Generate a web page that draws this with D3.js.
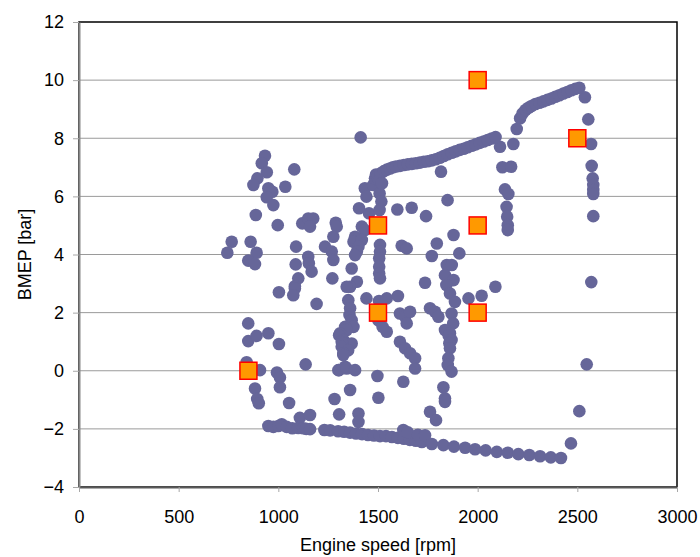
<!DOCTYPE html>
<html>
<head>
<meta charset="utf-8">
<script src="https://cdn.jsdelivr.net/npm/d3@7"></script>
<style>
  body { margin: 0; background: #fff; }
  svg { display: block; font-family: "Liberation Sans", Arial, sans-serif; }
  .axis text { font-size: 18px; fill: #000; }
  .title { font-size: 18px; fill: #000; }
</style>
</head>
<body>
<svg id="chart" width="700" height="557"></svg>
<script>
// measured operating points [rpm, bar]
var scatterLeft = [
  [933,7.40],[917,7.14],[942,6.83],[1080,6.93],[895,6.62],[875,6.39],[950,6.28],[970,6.16],
  [1035,6.33],[942,5.97],[975,5.70],[887,5.36],[997,5.01],[1120,5.07],[1150,5.24],[1175,5.24],
  [1159,4.96],[1288,5.09],[1293,4.96],[1276,4.61],[766,4.44],[744,4.06],[861,4.44],[891,4.06],
  [849,3.79],[883,3.67],[1089,4.27],[1087,3.66],[1150,3.92],[1153,3.70],[1167,3.41],[1100,3.18],
  [1083,2.91],[1003,2.70],[1083,2.83],[1075,2.60],[1192,2.30],[1234,4.27],[1268,4.10],[1276,3.81],
  [1271,3.18],[849,1.63],[849,1.02],[891,1.20],[950,1.29],[1003,0.92],[841,0.29],[908,0.02],
  [1137,0.22],[993,-0.06],[1008,-0.23],[1008,-0.57],[883,-0.61],[894,-0.97],[902,-1.12],
  [1054,-1.11],[1108,-1.62],[1159,-1.52],[1282,-0.97],[1305,-1.50],[1305,0.02]
];
var scatterMid = [
  [1413,8.03],[1434,6.28],[1476,6.39],[1442,5.99],[1508,6.10],[1517,5.82],[1405,5.59],[1455,5.42],
  [1508,5.53],[1597,5.55],[1419,4.96],[1434,4.84],[1385,4.61],[1377,4.44],[1419,4.50],[1402,4.27],
  [1394,4.10],[1385,3.98],[1510,4.33],[1510,4.10],[1506,3.87],[1506,3.58],[1506,3.35],[1510,3.18],
  [1619,4.30],[1644,4.21],[1368,3.52],[1394,3.06],[1360,2.89],[1343,2.89],[1351,2.43],[1360,2.15],
  [1357,1.92],[1368,1.74],[1377,1.51],[1335,1.51],[1343,1.40],[1310,1.29],[1305,1.22],[1326,1.06],
  [1318,1.00],[1368,0.94],[1322,0.95],[1318,0.83],[1350,0.70],[1326,0.60],[1326,0.54],[1335,0.14],
  [1505,2.40],[1442,2.49],[1544,2.49],[1600,2.57],[1544,1.34],[1502,1.74],[1523,1.51],
  [1301,0.02],[1343,0.08],[1385,0.02],[1497,-0.18],[1360,-0.66],[1502,-0.93],[1402,-1.47],[1402,-1.76]
];
var scatterRight = [
  [1816,6.85],[1849,5.87],[1669,5.61],[1741,5.32],[1879,4.67],[1795,4.38],[1770,3.95],[1908,4.04],
  [1845,3.64],[1870,3.64],[1836,3.29],[1879,3.12],[1736,3.03],[1843,2.95],[1861,2.66],[1886,2.37],
  [1954,2.49],[2020,2.58],[2089,2.89],[1610,1.97],[1636,1.86],[1661,2.03],[1644,1.63],[1761,2.15],
  [1786,2.03],[1803,1.86],[1869,1.97],[1877,1.63],[1836,1.40],[1861,1.29],[1855,1.20],[1869,1.06],
  [1858,0.95],[1861,0.77],[1853,0.43],[1850,0.20],[1869,-0.03],[1828,-0.57],[1836,-0.95],[1836,-1.07],
  [1761,-1.41],[1791,-1.70],[1610,1.00],[1636,0.77],[1661,0.60],[1686,0.43],[1686,0.08],[1627,-0.38],
  [2112,7.71],[2124,7.00],[2168,7.02],[2179,7.80],[2196,8.32],[2137,6.24],[2154,6.08],[2145,5.64],
  [2148,5.30],[2151,5.01],[2151,4.84],
  [2538,9.41],[2555,8.65],[2569,7.80],[2572,7.05],[2577,6.62],[2580,6.39],[2580,6.22],[2580,6.08],
  [2580,5.32],[2570,3.05],[2547,0.22],[2510,-1.39],[2468,-2.50]
];
var fullLoadLow = [
  [1485,6.62],[1490,6.75],[1500,6.72],[1505,6.55],[1515,6.80],[1520,6.45],[1530,6.87],[1545,6.92],
  [1560,6.96],[1575,7.00],[1590,7.03],[1610,7.05],[1630,7.08],[1650,7.10],[1670,7.12],[1690,7.14],
  [1710,7.16],[1730,7.19],[1750,7.21],[1770,7.24],[1790,7.28],[1810,7.33],[1830,7.39],[1850,7.45],
  [1870,7.50],[1890,7.55],[1910,7.60],[1930,7.64],[1950,7.69],[1970,7.74],[1990,7.79],[2010,7.84],
  [2030,7.89],[2050,7.94],[2070,7.99],[2090,8.04]
];
var fullLoadHigh = [
  [2213,8.69],[2225,8.85],[2240,8.97],[2255,9.05],[2270,9.11],[2290,9.18],[2310,9.22],[2330,9.27],
  [2350,9.32],[2370,9.37],[2390,9.43],[2410,9.48],[2430,9.54],[2450,9.59],[2470,9.65],[2490,9.70],
  [2510,9.74]
];
var motoring = [
  [950,-1.90],[975,-1.93],[1000,-1.90],[1017,-1.84],[1042,-1.93],[1070,-1.98],[1100,-1.97],[1125,-1.98],
  [1140,-2.00],[1159,-2.01],[1231,-2.04],[1260,-2.05],[1300,-2.08],[1330,-2.10],[1360,-2.13],[1390,-2.16],
  [1420,-2.18],[1450,-2.21],[1480,-2.23],[1510,-2.25],[1540,-2.25],[1570,-2.28],[1600,-2.31],[1630,-2.34],
  [1660,-2.38],[1690,-2.41],[1720,-2.45],[1627,-2.04],[1650,-2.12],[1700,-2.20],[1736,-2.22],
  [1770,-2.52],[1828,-2.56],[1881,-2.61],[1937,-2.65],[1987,-2.70],[2040,-2.74],[2096,-2.79],
  [2151,-2.82],[2204,-2.87],[2259,-2.90],[2313,-2.94],[2367,-2.98],[2418,-3.00]
];
// test points
var testSpeed = [850, 1500, 1500, 2000, 2000, 2000, 2500];
var testBmep  = [0, 5, 2, 10, 5, 2, 8];

var xTicks = [0, 500, 1000, 1500, 2000, 2500, 3000];
var yTicks = [-4, -2, 0, 2, 4, 6, 8, 10, 12];

var svg = d3.select("#chart"),
  margin = {top: 22, right: 23, bottom: 70, left: 79},
  width = 700 - margin.left - margin.right,
  height = 557 - margin.top - margin.bottom,
  g = svg.append("g").attr("transform", "translate(" + margin.left + "," + margin.top + ")");

var x = d3.scaleLinear().domain([0, 3000]).range([0, width]);
var y = d3.scaleLinear().domain([-4, 12]).range([height, 0]);

// gridlines
g.append("g")
  .selectAll("line")
  .data(yTicks.filter(function (d) { return d > -4 && d < 12; }))
  .enter().append("line")
    .attr("x1", 0).attr("x2", width)
    .attr("y1", y).attr("y2", y)
    .attr("stroke", "#9a9a9a")
    .attr("stroke-width", 1);

// plot frame
g.append("rect")
  .attr("width", width).attr("height", height)
  .attr("fill", "none")
  .attr("stroke", "#000")
  .attr("stroke-width", 1.5);

var xAxis = g.append("g")
  .attr("class", "axis")
  .attr("transform", "translate(0," + height + ")")
  .call(d3.axisBottom(x).tickValues(xTicks).tickFormat(d3.format("d"))
    .tickSizeInner(5).tickSizeOuter(0).tickPadding(18));

var yAxis = g.append("g")
  .attr("class", "axis")
  .call(d3.axisLeft(y).tickValues(yTicks).tickFormat(d3.format("d"))
    .tickSizeInner(6).tickSizeOuter(0).tickPadding(9));

xAxis.select("path").attr("stroke", "#5a5a5a").attr("stroke-width", 2);
yAxis.select("path").attr("stroke", "#888").attr("stroke-width", 2);
[xAxis, yAxis].forEach(function (a) {
  a.selectAll("line").attr("stroke", "#a8a8a8").attr("stroke-width", 1);
  a.selectAll("text").style("font-family", "'Liberation Sans', Arial, sans-serif");
});

var measured = scatterLeft.concat(scatterMid, scatterRight, fullLoadLow, fullLoadHigh, motoring);

g.append("g")
  .selectAll("circle")
  .data(measured)
  .enter().append("circle")
    .attr("cx", function (d) { return x(d[0]); })
    .attr("cy", function (d) { return y(d[1]); })
    .attr("r", 6.3)
    .attr("fill", "#666699");

var sq = 17;
g.append("g")
  .selectAll("rect")
  .data(testSpeed.map(function (s, i) { return [s, testBmep[i]]; }))
  .enter().append("rect")
    .attr("x", function (d) { return x(d[0]) - sq / 2; })
    .attr("y", function (d) { return y(d[1]) - sq / 2; })
    .attr("width", sq).attr("height", sq)
    .attr("fill", "#ff9900")
    .attr("stroke", "#ff0000")
    .attr("stroke-width", 1.5);

svg.append("text")
  .attr("class", "title")
  .attr("x", margin.left + width / 2)
  .attr("y", 551)
  .attr("text-anchor", "middle")
  .text("Engine speed [rpm]");

svg.append("text")
  .attr("class", "title")
  .attr("transform", "translate(31," + (margin.top + height / 2) + ") rotate(-90)")
  .attr("text-anchor", "middle")
  .text("BMEP [bar]");
</script>
</body>
</html>
